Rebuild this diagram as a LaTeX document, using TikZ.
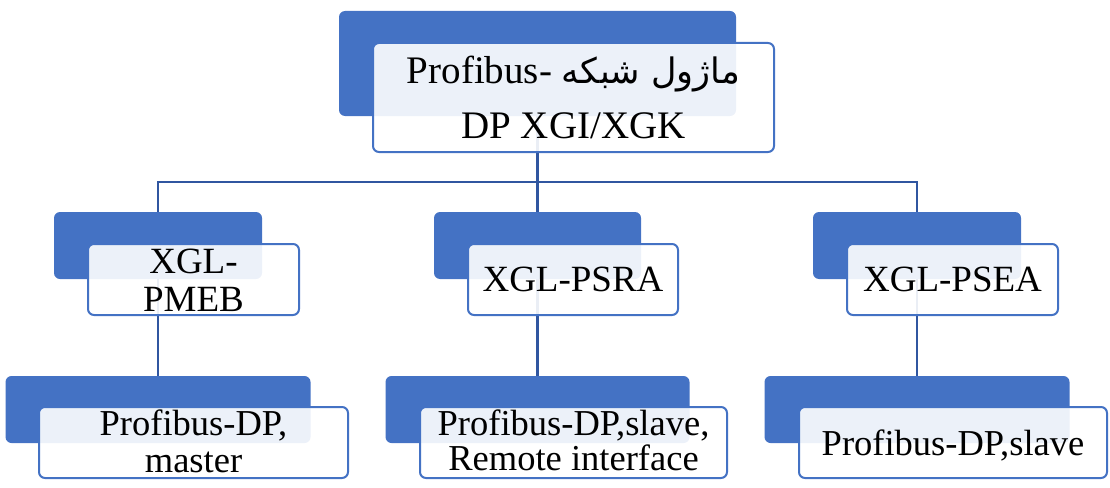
\documentclass[tikz,border=0pt]{standalone}
\usepackage{fontspec}
\setmainfont{Liberation Serif}
\newfontfamily\arabicfont[Script=Arabic,Scale=0.9]{DejaVu Sans}
\TeXXeTstate=1
\definecolor{accblue}{HTML}{4472C4}
\definecolor{linkblue}{HTML}{3056A0}
\begin{document}
\begin{tikzpicture}[x=1pt,y=-1pt,
  back/.style={fill=accblue, draw=none, rounded corners=6pt, inner sep=0pt},
  front/.style={draw=accblue, line width=2pt, fill=white, fill opacity=0.9, text opacity=1,
    rounded corners=6pt, inner sep=0pt, align=center, text=black},
  link/.style={draw=linkblue, line width=2.8pt},
  lvltop/.style={font=\fontsize{39pt}{55pt}\selectfont},
  lvltwo/.style={font=\fontsize{37pt}{38pt}\selectfont},
  lvlthree/.style={font=\fontsize{36.5pt}{37pt}\selectfont}]
\useasboundingbox (0,0) rectangle (1110,487);

% back boxes
\node[back, minimum width=397pt, minimum height=105pt] (b0) at (537.5,63.5) {};
\node[back, minimum width=208pt, minimum height=67pt] (b1) at (158,245.5) {};
\node[back, minimum width=207pt, minimum height=67pt] (b2) at (537.5,245.5) {};
\node[back, minimum width=208pt, minimum height=67pt] (b3) at (917,245.5) {};
\node[back, minimum width=305pt, minimum height=67pt] (c1) at (158,409.5) {};
\node[back, minimum width=304pt, minimum height=67pt] (c2) at (537.5,409.5) {};
\node[back, minimum width=305pt, minimum height=67pt] (c3) at (917,409.5) {};

% connectors
\coordinate (bus) at (537.5,182);
\draw[link] (b0.south) -- (bus);
\draw[link] (b1.north) |- (bus) -| (b3.north);
\draw[link] (bus) -- (b2.north);
\draw[link] (b1.south) -- (c1.north);
\draw[link] (b2.south) -- (c2.north);
\draw[link] (b3.south) -- (c3.north);

% front boxes
\node[front, lvltop, minimum width=401pt, minimum height=109pt, text height=83pt, text depth=2pt] (f0) at (573.5,97.5)
  {Profibus- {\arabicfont\beginR ماژول شبکه\endR}\\DP XGI/XGK};
\node[front, lvltwo, minimum width=211pt, minimum height=71pt, text height=65pt, text depth=2pt] (f1) at (193.5,279.5)
  {XGL-\\PMEB};
\node[front, lvltwo, minimum width=210pt, minimum height=71pt, text height=27pt, text depth=2.6pt] (f2) at (573,279.5)
  {XGL-PSRA};
\node[front, lvltwo, minimum width=211pt, minimum height=71pt, text height=27pt, text depth=2.6pt] (f3) at (952.5,279.5)
  {XGL-PSEA};
\node[front, lvlthree, minimum width=309pt, minimum height=71pt, text height=61pt, text depth=2pt] (g1) at (193.5,442.5)
  {Profibus-DP,\\master};
\node[front, minimum width=307pt, minimum height=71pt, text height=57pt, text depth=2pt, font=\fontsize{36.5pt}{35pt}\selectfont] (g2) at (573.5,442.5)
  {Profibus-DP,slave,\\Remote interface};
\node[front, lvlthree, minimum width=308pt, minimum height=71pt, text height=26pt, text depth=1pt] (g3) at (953,442.5)
  {Profibus-DP,slave};
\end{tikzpicture}
\end{document}
